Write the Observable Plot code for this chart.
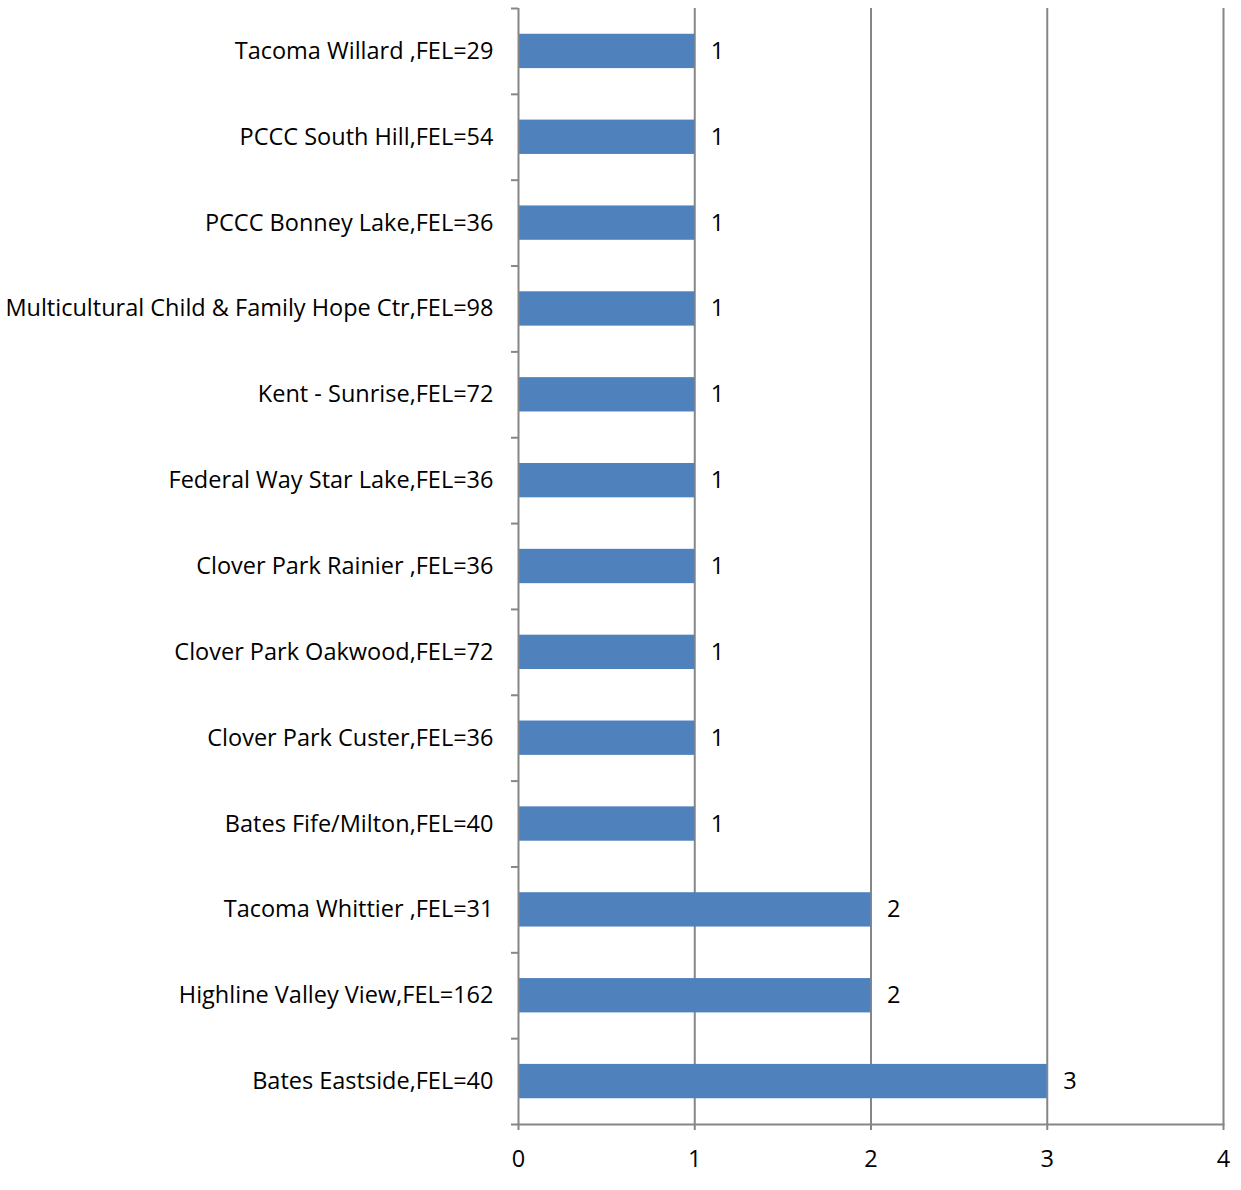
<!DOCTYPE html>
<html>
<head>
<meta charset="utf-8">
<script src="https://cdn.jsdelivr.net/npm/d3@7"></script>
<script src="https://cdn.jsdelivr.net/npm/@observablehq/plot@0.6"></script>
<style>
  html, body { margin: 0; padding: 0; background: white; }
</style>
</head>
<body>
<div id="chart"></div>
<script>
const categories = [
  "Tacoma Willard ,FEL=29",
  "PCCC South Hill,FEL=54",
  "PCCC Bonney Lake,FEL=36",
  "Multicultural Child & Family Hope Ctr,FEL=98",
  "Kent - Sunrise,FEL=72",
  "Federal Way Star Lake,FEL=36",
  "Clover Park Rainier ,FEL=36",
  "Clover Park Oakwood,FEL=72",
  "Clover Park Custer,FEL=36",
  "Bates Fife/Milton,FEL=40",
  "Tacoma Whittier ,FEL=31",
  "Highline Valley View,FEL=162",
  "Bates Eastside,FEL=40"
];
const values = [1, 1, 1, 1, 1, 1, 1, 1, 1, 1, 2, 2, 3];
const xTicks = [0, 1, 2, 3, 4];
const gridTicks = [1, 2, 3, 4];

const data = categories.map((c, i) => ({name: c, value: values[i]}));

const W = 1241, H = 1190, mt = 8, mb = 66, ml = 518, mr = 18;
const step = (H - mt - mb) / categories.length;
const gray = "#868686";

const chart = Plot.plot({
  width: W, height: H,
  marginLeft: ml, marginRight: mr, marginTop: mt, marginBottom: mb,
  style: {fontFamily: "'Open Sans', sans-serif", fontSize: "23.5px", color: "black", background: "white"},
  x: {domain: [0, 4], label: null},
  y: {domain: categories, paddingInner: 0.6, paddingOuter: 0.3, round: false, label: null},
  marks: [
    Plot.gridX(gridTicks, {stroke: gray, strokeOpacity: 1, strokeWidth: 2}),
    Plot.barX(data, {x: "value", y: "name", fill: "#4F81BD"}),
    Plot.text(data, {x: "value", y: "name", text: d => String(d.value), textAnchor: "start", dx: 16, fill: "black"}),
    Plot.ruleX([0], {stroke: gray, strokeWidth: 2}),
    Plot.frame({anchor: "bottom", stroke: gray, strokeWidth: 2}),
    Plot.axisX(xTicks, {tickSize: 6, tickPadding: 20, stroke: gray, strokeWidth: 2, fill: "black", tickFormat: d => String(d), label: null}),
    Plot.axisY({tickSize: 0, tickPadding: 25, fill: "black", label: null}),
    Plot.axisY({tickSize: 7, stroke: gray, strokeWidth: 2, tickFormat: () => "", dy: -step / 2, label: null}),
    Plot.axisY([categories[categories.length - 1]], {tickSize: 7, stroke: gray, strokeWidth: 2, tickFormat: () => "", dy: step / 2, label: null})
  ]
});
document.getElementById("chart").append(chart);
</script>
</body>
</html>
